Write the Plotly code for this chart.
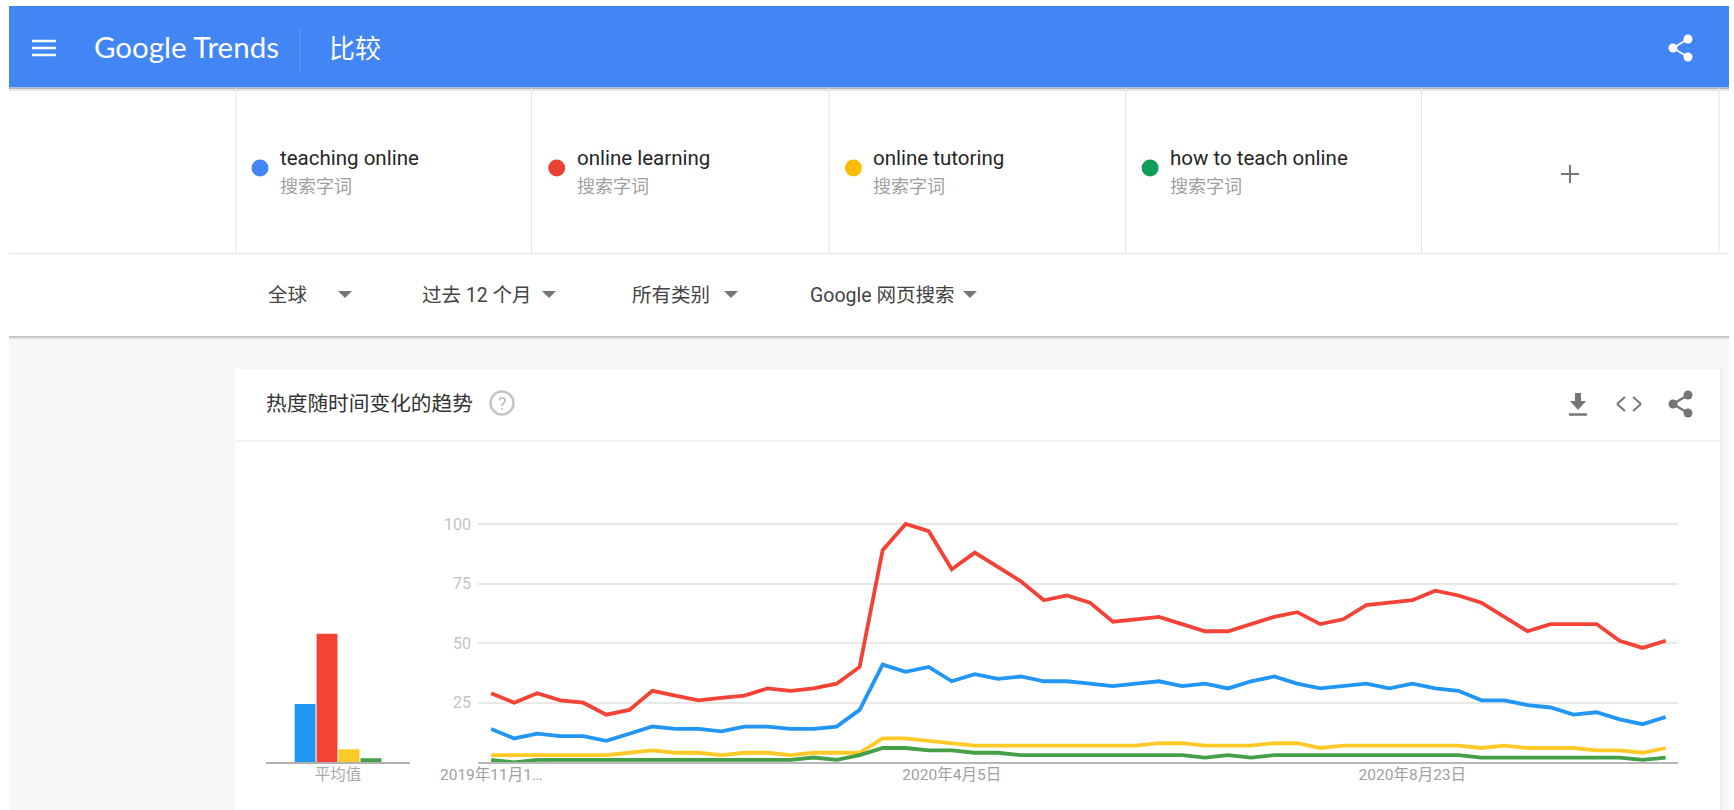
import plotly.graph_objects as go
import pandas as pd

W, H = 1734, 810

# ---- data ----
dates = [d.strftime("%Y-%m-%d") for d in pd.date_range("2019-11-17", periods=52, freq="7D")]
teaching_online = [14,10,12,11,11,9,12,15,14,14,13,15,15,14,14,15,22,41,38,40,34,37,35,36,34,34,33,32,33,34,32,33,31,34,36,33,31,32,33,31,33,31,30,26,26,24,23,20,21,18,16,19]
online_learning = [29,25,29,26,25,20,22,30,28,26,27,28,31,30,31,33,40,89,100,97,81,88,82,76,68,70,67,59,60,61,58,55,55,58,61,63,58,60,66,67,68,72,70,67,61,55,58,58,58,51,48,51]
online_tutoring = [3,3,3,3,3,3,4,5,4,4,3,4,4,3,4,4,4,10,10,9,8,7,7,7,7,7,7,7,7,8,8,7,7,7,8,8,6,7,7,7,7,7,7,6,7,6,6,6,5,5,4,6]
how_to_teach = [1,0,1,1,1,1,1,1,1,1,1,1,1,1,2,1,3,6,6,5,5,4,4,3,3,3,3,3,3,3,3,2,3,2,3,3,3,3,3,3,3,3,3,2,2,2,2,2,2,2,1,2]
averages = [24.5, 53.9, 5.5, 1.7]
terms = ["teaching online", "online learning", "online tutoring", "how to teach online"]
term_sub = "搜索字词"
line_colors = ["#2196f3", "#f44336", "#ffca28", "#43a047"]
dot_colors = ["#4285f4", "#ea4335", "#fbbc04", "#0f9d58"]
y_ticks = [25, 50, 75, 100]
x_tick_dates = ["2019-11-17", "2020-04-05", "2020-08-23"]
x_tick_text = ["2019年11月1…", "2020年4月5日", "2020年8月23日"]
avg_label = "平均值"
filters = ["全球", "过去 12 个月", "所有类别", "Google 网页搜索"]
card_title = "热度随时间变化的趋势"
page_title = "比较"
logo_text = "Google Trends"

# ---- page furniture helpers (pixel coordinates of the page) ----
FONT = "Roboto, 'Noto Sans CJK SC', sans-serif"
px = lambda x: x / W
py = lambda y: 1 - y / H
shapes, notes = [], []

def rect(x0, y0, x1, y1, color, opacity=1, layer="below"):
    shapes.append(dict(type="rect", xref="paper", yref="paper", x0=px(x0), x1=px(x1), y0=py(y0), y1=py(y1),
                       fillcolor=color, opacity=opacity, line_width=0, layer=layer))

def seg(x0, y0, x1, y1, color, width=1, layer="below"):
    shapes.append(dict(type="line", xref="paper", yref="paper", x0=px(x0), x1=px(x1), y0=py(y0), y1=py(y1),
                       line=dict(color=color, width=width), layer=layer))

def circle(cx, cy, r, fill, line=None, lw=0):
    shapes.append(dict(type="circle", xref="paper", yref="paper", x0=px(cx-r), x1=px(cx+r), y0=py(cy-r), y1=py(cy+r),
                       fillcolor=fill, line=dict(color=line or fill, width=lw), layer="below"))

def poly(points, color):
    path = "M " + " L ".join(f"{px(x):.5f},{py(y):.5f}" for x, y in points) + " Z"
    shapes.append(dict(type="path", xref="paper", yref="paper", path=path, fillcolor=color, line_width=0, layer="below"))

def text(x, y, s, size, color, anchor="left", family=FONT):
    notes.append(dict(xref="paper", yref="paper", x=px(x), y=py(y), text=s, showarrow=False, xanchor=anchor,
                      yanchor="middle", borderpad=0, borderwidth=0, font=dict(family=family, size=size, color=color)))

def share(cx0, cx1, y0, y1, y2, color, r, lw):
    seg(cx0, y1, cx1, y0, color, lw)
    seg(cx0, y1, cx1, y2, color, lw)
    circle(cx1, y0, r, color)
    circle(cx0, y1, r, color)
    circle(cx1, y2, r, color)

# page background
rect(9, 337, 1729, 810, "#f7f7f7")
rect(235, 369, 1720, 810, "#ffffff")
seg(235, 441, 1720, 441, "#eeeeee", 1.5)
rect(1720, 369, 1722, 810, "#eeeeee")
# header
rect(9, 6, 1729, 87.5, "#4285f4")
rect(9, 87.5, 1729, 89, "#b5b5b5")
rect(9, 89, 1729, 91, "#e6e6e6")
for y in [41, 48, 55]:
    seg(32, y, 56, y, "#ffffff", 2.5)
seg(300, 29, 300, 72, "#5f96f6", 1)
text(94, 47, logo_text, 29.5, "#ffffff", family="Lato, sans-serif")
text(329, 49, page_title, 26, "#ffffff")
share(1673, 1688, 39, 48, 57, "#ffffff", 4.5, 2)
# search terms
for x in [236, 531.6, 829, 1125.7, 1421.5, 1719]:
    seg(x, 88, x, 253, "#e4e4e4", 1)
seg(9, 253.5, 1729, 253.5, "#eaeaea", 1.5)
for i, term in enumerate(terms):
    x0 = 260 + i * 296.7
    circle(x0, 168, 8.5, dot_colors[i])
    text(x0 + 20, 158, term, 20.5, "#262626")
    text(x0 + 20, 187, term_sub, 18, "#a0a0a0")
seg(1561, 174, 1579, 174, "#777777", 2)
seg(1570, 165, 1570, 183, "#777777", 2)
# filters
for label, x, tx in zip(filters, [268, 422, 632, 810], [345, 549, 731, 970]):
    text(x, 295, label, 19.5, "#444444")
    poly([(tx - 7, 291), (tx + 7, 291), (tx, 298)], "#757575")
rect(9, 336, 1729, 338, "#c4c4c4")
rect(9, 338, 1729, 340, "#ececec")
# card header
text(265.5, 404, card_title, 20.7, "#333333")
circle(502, 403, 11.5, "#ffffff", "#c4c4c4", 2.5)
text(502, 403, "?", 18, "#bdbdbd", anchor="center")
poly([(1575, 393), (1581, 393), (1581, 401), (1586, 401), (1578, 410), (1570, 401), (1575, 401)], "#757575")
seg(1569, 414.5, 1587, 414.5, "#757575", 2.5)
seg(1625, 397, 1617, 404, "#757575", 2)
seg(1617, 404, 1625, 411, "#757575", 2)
seg(1633, 397, 1641, 404, "#757575", 2)
seg(1641, 404, 1633, 411, "#757575", 2)
share(1673, 1688, 395, 404, 413, "#757575", 4.5, 2.5)

# ---- chart ----
fig = go.Figure()
series = [teaching_online, online_learning, online_tutoring, how_to_teach]
for name, vals, col in zip(terms, series, line_colors):
    fig.add_trace(go.Scatter(x=dates, y=vals, name=name, mode="lines", cliponaxis=False,
                             line=dict(color=col, width=3.8), hoverinfo="skip"))
for name, val, col in zip(terms, averages, line_colors):
    fig.add_trace(go.Bar(x=[avg_label], y=[val], name=name, marker=dict(color=col, line_width=0),
                         xaxis="x2", yaxis="y2", hoverinfo="skip"))

# y range runs a little past 100 so the 100 gridline is kept (plotly drops grid at the range end)
Y_MAX = 102
y0_px, px_per_unit = 762.3, 2.383
dom_y = [py(y0_px), py(y0_px - px_per_unit * Y_MAX)]
x_font = dict(family=FONT, size=15.5, color="#a0a0a0")
fig.update_layout(
    template="none",
    width=W, height=H, autosize=False, margin=dict(l=0, r=0, t=0, b=0, pad=0),
    paper_bgcolor="#ffffff", plot_bgcolor="rgba(0,0,0,0)", showlegend=False,
    barmode="group", bargap=0.39, bargroupgap=0.05,
    shapes=shapes, annotations=notes,
    xaxis=dict(domain=[px(478), px(1678)], type="date", range=["2019-11-13", "2020-11-11 18:00"], automargin=False,
               tickmode="array", tickvals=x_tick_dates, ticktext=x_tick_text, tickfont=x_font,
               showgrid=False, zeroline=False, showline=True, linecolor="#b8b8b8", linewidth=1.5, ticks="", ticklabelstandoff=-2),
    yaxis=dict(domain=dom_y, range=[0, Y_MAX], tickmode="array", tickvals=y_ticks,
               tickfont=dict(family=FONT, size=16, color="#c4c4c4"), automargin=False,
               showgrid=True, gridcolor="#e8e8e8", gridwidth=2, zeroline=False, showline=False, ticks="", ticklabelstandoff=6),
    xaxis2=dict(domain=[px(266), px(410)], anchor="y2", type="category", automargin=False,
                tickfont=dict(family=FONT, size=15.5, color="#a8a8a8"),
                showgrid=False, zeroline=False, showline=True, linecolor="#b0b0b0", linewidth=1.5, ticks="", ticklabelstandoff=-2),
    yaxis2=dict(domain=dom_y, anchor="x2", range=[0, Y_MAX], visible=False),
)
fig.write_html("out.html", config=dict(displayModeBar=False, staticPlot=True),
               post_script="document.body.style.margin='0';document.body.style.overflow='hidden';")
